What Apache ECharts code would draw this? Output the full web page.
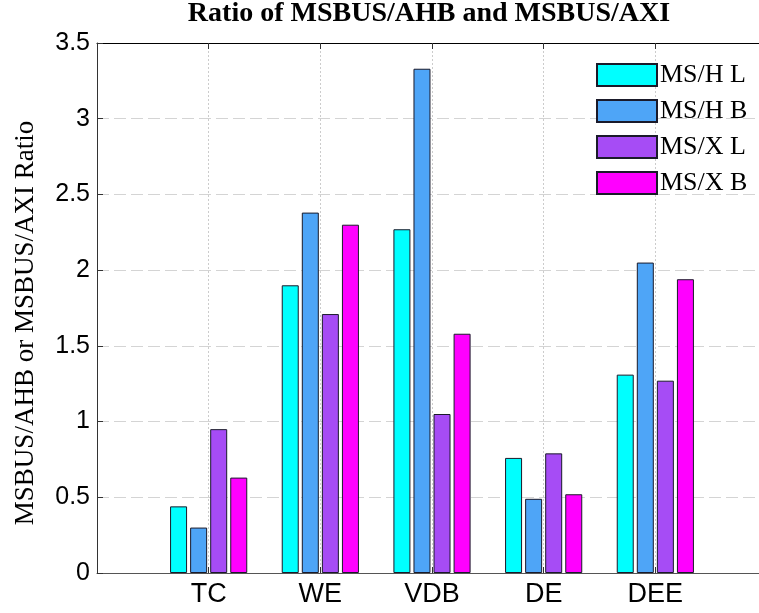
<!DOCTYPE html>
<html>
<head>
<meta charset="utf-8">
<script src="https://cdn.jsdelivr.net/npm/echarts@6/dist/echarts.min.js"></script>
<style>html,body{margin:0;padding:0;background:#fff;overflow:hidden;}#c{width:780px;height:613px;}</style>
</head>
<body>
<div id="c"></div>
<script>
const categories = ['TC', 'WE', 'VDB', 'DE', 'DEE'];
const seriesNames = ['MS/H L', 'MS/H B', 'MS/X L', 'MS/X B'];
const msHL = [0.44, 1.90, 2.27, 0.76, 1.31];
const msHB = [0.30, 2.38, 3.33, 0.49, 2.05];
const msXL = [0.95, 1.71, 1.05, 0.79, 1.27];
const msXB = [0.63, 2.30, 1.58, 0.52, 1.94];
const yTicks = [0, 0.5, 1, 1.5, 2, 2.5, 3, 3.5];
const colors = ['#00ffff', '#4ea5f7', '#a64cf5', '#ff00ff'];

const axisCats = [''].concat(categories, ['']);
const pad = v => [null].concat(v, [null]);
const allValues = [msHL, msHB, msXL, msXB];

const chart = echarts.init(document.getElementById('c'), null, {renderer: 'canvas'});
chart.setOption({
  animation: false,
  backgroundColor: '#fff',
  title: {
    text: 'Ratio of MSBUS/AHB and MSBUS/AXI',
    left: 429, textAlign: 'center', top: 0, padding: 0,
    textStyle: {fontFamily: 'Liberation Serif', fontWeight: 'bold', fontSize: 28, color: '#000'}
  },
  legend: {
    data: seriesNames,
    orient: 'vertical',
    left: 596, top: 62,
    itemWidth: 60, itemHeight: 22, itemGap: 10,
    icon: 'rect',
    padding: 0,
    textStyle: {fontFamily: 'Liberation Serif', fontSize: 26, color: '#000', lineHeight: 22, padding: [0, 0, 0, -2]}
  },
  grid: {left: 97, top: 43, right: 13, bottom: 40, outerBoundsMode: 'none', containLabel: false},
  xAxis: [{
    type: 'category', data: axisCats, boundaryGap: false,
    axisLine: {lineStyle: {color: '#555', width: 1}},
    axisTick: {inside: true, length: 6, lineStyle: {color: '#333'}},
    axisLabel: {fontFamily: 'Liberation Sans', fontSize: 27, color: '#000', margin: 8},
    splitLine: {show: true, lineStyle: {color: '#cccccc', type: [2, 2], width: 1}}
  }, {
    type: 'category', data: axisCats, boundaryGap: false, position: 'top',
    axisLine: {show: true, lineStyle: {color: '#000', width: 1}},
    axisTick: {inside: true, length: 6, lineStyle: {color: '#333'}},
    axisLabel: {show: false}, splitLine: {show: false}
  }],
  yAxis: {
    type: 'value', min: 0, max: 3.5, interval: 0.5,
    name: 'MSBUS/AHB or MSBUS/AXI Ratio', nameLocation: 'middle', nameGap: 58,
    nameTextStyle: {fontFamily: 'Liberation Serif', fontSize: 27, color: '#000', padding: [0, 30, 0, 0]},
    axisLine: {show: true, lineStyle: {color: '#333', width: 1}},
    axisTick: {show: true, inside: true, length: 6, lineStyle: {color: '#333'}},
    axisLabel: {fontFamily: 'Liberation Sans', fontSize: 25, color: '#000', margin: 7,
      formatter: v => (yTicks.indexOf(v) >= 0 ? String(v) : '')},
    splitLine: {show: true, lineStyle: {color: '#d4d4d4', type: [12, 5], width: 1}}
  },
  series: seriesNames.map((n, i) => ({
    name: n, type: 'bar', xAxisIndex: 0,
    data: pad(allValues[i]),
    barWidth: 17, barGap: '18%',
    itemStyle: {color: colors[i], borderColor: '#1a1a2a', borderWidth: 1}
  }))
});
</script>
</body>
</html>
